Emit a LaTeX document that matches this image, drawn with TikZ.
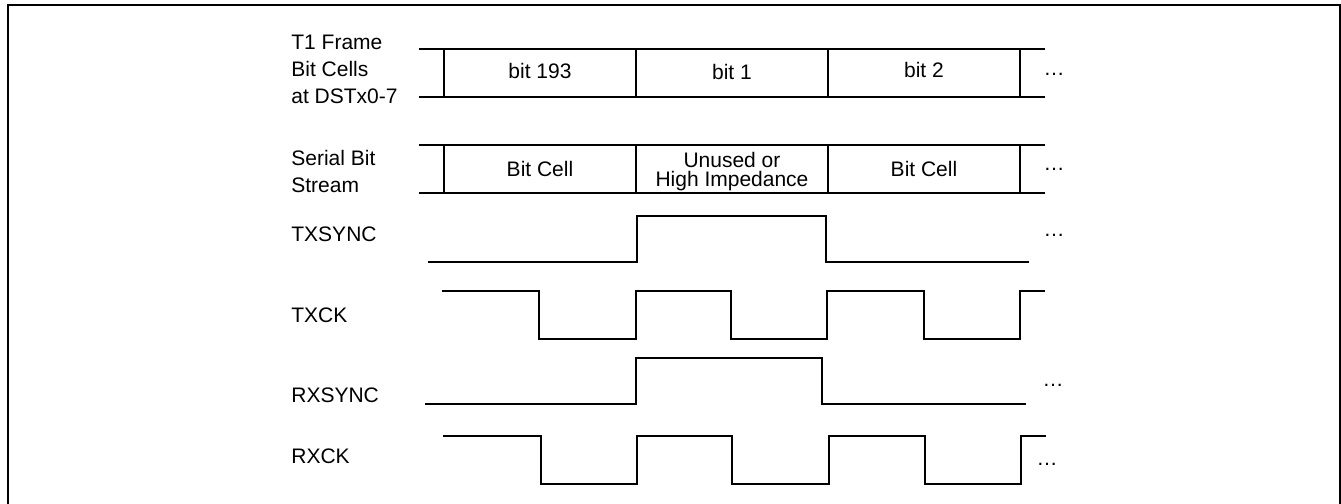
\documentclass[tikz,border=0pt]{standalone}
\usepackage{fontspec}
\setmainfont{Liberation Sans}
\usepackage{tikz}

\begin{document}
\begin{tikzpicture}[x=0.5pt,y=-0.5pt, signal/.style={line width=1pt}, every node/.style={inner sep=0,font=\fontsize{10.5}{12}\selectfont}, lbl/.style={anchor=west,align=left}, more/.style={anchor=base}]

\useasboundingbox (0,0) rectangle (1341,504);

\draw [line width=1pt] (7.5,530) -- (7.5,5) -- (1339.5,5) -- (1339.5,530);

\node [lbl,anchor=north west] (frame) at (291,35) {T1 Frame\\[1.5pt]Bit Cells\\[1.5pt]at DSTx0-7};

\node [lbl,anchor=north west] (serial) at (291,149.5) {Serial Bit\\[1.5pt]Stream};

\node [lbl] (txsync) at (291,234) {TXSYNC};

\node [lbl] (txck) at (291,315) {TXCK};

\node [lbl] (rxsync) at (291,395) {RXSYNC};

\node [lbl] (rxck) at (291,456) {RXCK};

\draw [signal] (419,49) -- (1045,49);

\draw [signal] (419,97) -- (1045,97);

\draw [signal] (444,49) -- (444,97);

\draw [signal] (636,49) -- (636,97);

\draw [signal] (828,49) -- (828,97);

\draw [signal] (1020,49) -- (1020,97);

\node (bitA) at (540,71) {bit 193};

\node (bitB) at (732,71.5) {bit 1};

\node (bitC) at (924,69.5) {bit 2};

\node [more] (moreA) at (1054,75) {\ldots};

\draw [signal] (419,145) -- (1045,145);

\draw [signal] (419,193) -- (1045,193);

\draw [signal] (444,145) -- (444,193);

\draw [signal] (636,145) -- (636,193);

\draw [signal] (828,145) -- (828,193);

\draw [signal] (1020,145) -- (1020,193);

\node (cellA) at (540,169) {Bit Cell};

\node [align=center,anchor=north,font=\fontsize{10.5}{9.5}\selectfont] (unused) at (732,152) {Unused or\\High Impedance};

\node (cellC) at (924,169) {Bit Cell};

\node [more] (moreB) at (1054,170) {\ldots};

\draw [signal] (428,262) -- (637,262) -- (637,216) -- (826,216) -- (826,262) -- (1029,262);

\node [more] (moreC) at (1054,236) {\ldots};

\draw [signal] (442,291) -- (539,291) -- (539,339) -- (636,339) -- (636,291) -- (731,291) -- (731,339) -- (827,339) -- (827,291) -- (924,291) -- (924,339) -- (1020,339) -- (1020,291) -- (1045,291);

\draw [signal] (425,404) -- (636,404) -- (636,358) -- (822,358) -- (822,404) -- (1026,404);

\node [more] (moreD) at (1053,386) {\ldots};

\draw [signal] (443,436) -- (541,436) -- (541,484) -- (637,484) -- (637,436) -- (732,436) -- (732,484) -- (829,484) -- (829,436) -- (925,436) -- (925,484) -- (1021,484) -- (1021,436) -- (1046,436);

\node [more] (moreE) at (1047,465) {\ldots};

\end{tikzpicture}
\end{document}
